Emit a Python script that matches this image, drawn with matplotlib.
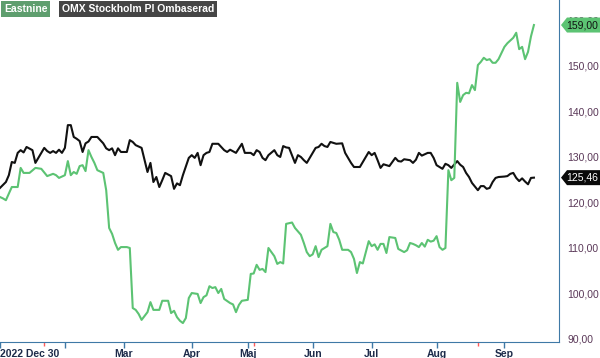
import matplotlib
matplotlib.use("Agg")
import matplotlib.pyplot as plt
from matplotlib.patches import Polygon
from matplotlib.transforms import blended_transform_factory

plt.rcParams['font.family'] = ['Liberation Sans', 'DejaVu Sans']

# trading-day index -> value
omx_days = [0, 2, 3, 4, 5, 6, 7, 8, 9, 11, 12, 13, 15, 16, 17, 18, 19, 20, 21, 22,
            23, 24, 25, 26, 27, 28, 29, 30, 31, 33, 34, 35, 36, 37, 38, 39, 40, 41, 42, 43,
            44, 45, 46, 48, 49, 50, 51, 52, 53, 54, 55, 56, 58, 59, 60, 61, 62, 64, 65, 66,
            67, 68, 69, 70, 71, 72, 74, 76, 77, 78, 80, 81, 82, 83, 85, 86, 87, 88, 89, 90,
            91, 93, 94, 95, 96, 97, 98, 100, 101, 102, 103, 104, 105, 107, 108, 109, 110, 111, 112, 113,
            114, 116, 117, 118, 119, 120, 122, 123, 124, 125, 126, 127, 128, 129, 130, 131, 132, 134, 135, 136,
            137, 139, 140, 141, 142, 143, 145, 146, 147, 148, 150, 151, 152, 153, 155, 156, 157, 158, 159, 160,
            162, 163, 164, 165, 166, 167, 168, 169, 171, 172, 173, 174, 175, 176, 177, 178, 179, 180, 181]
omx_vals = [123.2, 124.5, 126.0, 128.9, 128.7, 130.9, 131.5, 131.0, 132.2, 131.5, 128.7, 129.8, 132.0, 131.3, 130.9, 131.3, 130.9, 131.6, 130.9, 132.0,
            137.0, 137.0, 134.4, 134.0, 133.5, 131.1, 133.0, 133.4, 134.4, 134.4, 133.7, 133.0, 131.9, 131.5, 131.9, 130.4, 131.9, 131.1, 131.1, 131.1,
            133.7, 133.3, 132.6, 132.0, 129.3, 126.7, 128.7, 124.5, 125.6, 123.4, 124.9, 126.5, 125.8, 123.0, 124.2, 123.8, 126.0, 129.8, 130.4, 129.8,
            130.9, 128.2, 130.4, 130.9, 131.1, 132.9, 132.9, 131.5, 131.1, 131.6, 130.9, 131.9, 132.9, 130.9, 130.9, 130.4, 131.5, 131.1, 129.8, 129.3,
            130.4, 131.5, 130.4, 130.0, 132.4, 132.1, 132.0, 128.7, 130.4, 130.0, 129.3, 128.7, 129.8, 132.0, 132.2, 132.9, 132.4, 132.2, 133.3, 133.1,
            132.9, 133.0, 130.9, 129.8, 128.7, 127.8, 127.8, 128.9, 130.0, 131.1, 130.4, 130.9, 129.3, 127.6, 128.4, 128.2, 128.0, 129.8, 129.1, 129.0,
            129.5, 129.3, 128.7, 129.4, 130.9, 130.3, 130.9, 130.9, 129.8, 128.2, 127.4, 128.5, 128.2, 127.6, 129.1, 128.3, 127.8, 126.5, 125.6, 124.3,
            122.7, 123.6, 123.6, 123.0, 123.2, 124.5, 125.4, 125.6, 125.7, 125.8, 126.3, 126.5, 125.4, 124.7, 125.3, 124.6, 124.0, 125.4, 125.46]

east_days = [0, 1, 2, 4, 6, 7, 8, 10, 12, 14, 16, 18, 19, 20, 22, 23, 24, 25, 26, 27,
             28, 29, 30, 31, 32, 33, 35, 36, 37, 38, 39, 40, 41, 42, 43, 44, 45, 46, 47, 48,
             50, 51, 52, 54, 55, 57, 58, 59, 60, 61, 62, 63, 64, 65, 67, 68, 69, 70, 71, 72,
             73, 74, 75, 76, 78, 79, 80, 81, 82, 84, 85, 86, 87, 88, 89, 90, 91, 93, 94, 95,
             96, 97, 99, 100, 102, 103, 104, 105, 106, 107, 108, 109, 111, 112, 113, 114, 115, 116, 118, 119,
             120, 121, 122, 123, 125, 126, 127, 128, 129, 130, 131, 132, 134, 135, 137, 138, 139, 140, 141, 142,
             143, 144, 145, 146, 147, 148, 149, 150, 151, 152, 153, 154, 155, 156, 157, 158, 159, 160, 161, 162,
             163, 164, 165, 166, 167, 168, 169, 171, 172, 174, 175, 176, 177, 178, 179, 180, 181]
east_vals = [121.2, 120.9, 120.5, 123.4, 123.4, 127.6, 126.5, 126.5, 127.6, 127.4, 125.8, 126.3, 126.0, 125.4, 126.0, 129.1, 126.0, 126.7, 126.3, 128.0,
             128.2, 126.9, 131.5, 130.0, 128.7, 127.1, 126.5, 122.7, 114.4, 113.1, 111.1, 109.6, 110.2, 110.2, 110.2, 110.0, 96.8, 96.4, 95.5, 94.2,
             95.9, 98.1, 96.4, 96.4, 98.4, 98.4, 95.7, 96.2, 94.8, 94.0, 93.5, 94.6, 99.0, 100.1, 99.9, 97.9, 99.2, 99.6, 101.6, 101.2,
             101.4, 100.1, 101.0, 98.8, 97.9, 97.6, 95.9, 97.5, 98.4, 98.6, 104.3, 104.4, 106.3, 105.2, 105.4, 104.7, 110.0, 108.2, 106.5, 106.9,
             106.6, 115.3, 115.6, 114.4, 112.9, 111.1, 109.1, 108.2, 108.6, 110.4, 108.0, 109.6, 110.4, 115.3, 113.5, 113.3, 111.8, 109.6, 109.6, 109.1,
             107.6, 104.5, 106.9, 106.6, 111.5, 110.4, 110.8, 109.6, 110.9, 110.9, 108.9, 112.4, 112.2, 109.8, 109.1, 109.5, 111.1, 110.9, 110.6, 110.2,
             111.1, 110.3, 111.8, 111.4, 111.6, 112.6, 110.2, 109.6, 110.0, 127.1, 124.9, 125.4, 146.3, 142.1, 143.6, 144.1, 144.0, 145.8, 144.7, 150.2,
             150.9, 151.8, 151.3, 151.5, 150.7, 150.7, 151.5, 154.2, 155.0, 156.2, 157.3, 153.7, 154.2, 151.5, 153.1, 156.5, 159.0]

month_ticks = [0, 22, 42, 65, 84, 106, 126, 148, 171]
month_labels = ['2022 Dec 30', '', 'Mar', 'Apr', 'Maj', 'Jun', 'Jul', 'Aug', 'Sep']
report_days = [15, 86, 162]
y_ticks = [90, 100, 110, 120, 130, 140, 150, 160]

green = '#5cc373'
fig = plt.figure(figsize=(6, 3.58), dpi=100)
ax = fig.add_axes([0, 16 / 358, 559 / 600, 342 / 358])

ax.plot(omx_days, omx_vals, color='#111111', lw=1.5, zorder=3)
ax.plot(east_days, east_vals, color=green, lw=1.5, zorder=4)

ax.set_xlim(0, 189.5)
ax.set_ylim(89.34, 164.5)

for s in ['top', 'left']:
    ax.spines[s].set_visible(False)
ax.spines['right'].set_color('#3f79a6')
ax.spines['bottom'].set_color('#3f79a6')

ax.yaxis.tick_right()
ax.set_yticks(y_ticks)
ax.set_yticklabels([f'{v},00' for v in y_ticks])
ax.tick_params(axis='y', length=0, pad=6, labelsize=7.5, labelcolor='#5a3858')

ax.set_xticks(month_ticks)
ax.set_xticklabels(month_labels)
ax.tick_params(axis='x', length=4, width=1, color='#3f79a6', pad=1, labelsize=7.5, labelcolor='#1d2b4a')
for lab in ax.get_xticklabels():
    lab.set_fontweight('bold')
ax.get_xticklabels()[0].set_ha('left')

ax.vlines(report_days, -0.012, 0, color='#ff5a5a', lw=1,
          transform=ax.get_xaxis_transform(), clip_on=False)

# legend boxes
fig.text(4 / 600, 1 - 9 / 358, 'Eastnine', color='white', fontsize=7.5, fontweight='bold',
         va='center', ha='left',
         bbox=dict(boxstyle='square,pad=0.25', fc='#5e9e6e', ec='none'))
fig.text(62 / 600, 1 - 9 / 358, 'OMX Stockholm PI Ombaserad', color='white', fontsize=7.5,
         fontweight='bold', va='center', ha='left',
         bbox=dict(boxstyle='square,pad=0.25', fc='#454545', ec='none'))

# last-value tags on the right axis
tr = blended_transform_factory(ax.transAxes, ax.transData)
for val, fc, tc in [(east_vals[-1], green, '#111111'), (omx_vals[-1], '#0a0a0a', 'white')]:
    h = 1.65
    x0, x1, x2 = 561 / 559, 567 / 559, 600 / 559
    poly = Polygon([[x0, val], [x1, val + h], [x2, val + h], [x2, val - h], [x1, val - h]],
                   closed=True, transform=tr, fc=fc, ec='none', clip_on=False, zorder=6)
    ax.add_patch(poly)
    ax.text(598 / 559, val, f'{val:.2f}'.replace('.', ','), transform=tr, ha='right', va='center',
            fontsize=7.5, color=tc, zorder=7, clip_on=False)

fig.savefig('out.png', dpi=100)
